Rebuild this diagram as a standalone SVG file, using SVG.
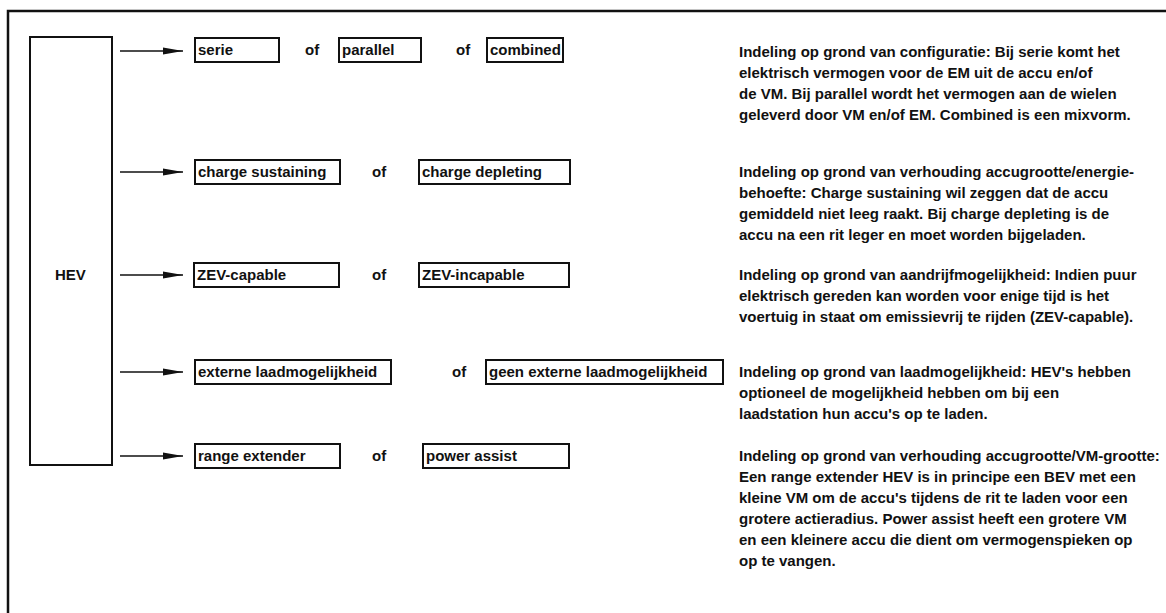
<svg xmlns="http://www.w3.org/2000/svg" width="1166" height="613" viewBox="0 0 1166 613">
<defs>
<style>
text{font-family:"Liberation Sans",Arial,sans-serif;font-size:15px;font-weight:bold;fill:#111}
.frame{stroke:#111;stroke-width:2.5;fill:none}
.box{stroke:#111;stroke-width:2;fill:#fff}
.conn{stroke:#111;stroke-width:1.5;fill:none}
</style>
<marker id="ah" viewBox="0 0 20 8" refX="20" refY="4" markerWidth="20" markerHeight="8" markerUnits="userSpaceOnUse" orient="auto">
<path d="M0,0.5 L20,4 L0,7.5 Z" fill="#111"/>
</marker>
</defs>
<rect width="1166" height="613" fill="#fff"/>
<path class="frame" d="M8,613 V11 H1166"/>
<g id="hev">
<rect class="box" x="30" y="37" width="82" height="428" stroke-width="1.8"/>
<text x="55" y="280">HEV</text>
</g>
<g id="connectors">
<line class="conn" x1="120" y1="51" x2="183" y2="51" marker-end="url(#ah)"/>
<line class="conn" x1="120" y1="172" x2="183" y2="172" marker-end="url(#ah)"/>
<line class="conn" x1="120" y1="275" x2="183" y2="275" marker-end="url(#ah)"/>
<line class="conn" x1="120" y1="372" x2="183" y2="372" marker-end="url(#ah)"/>
<line class="conn" x1="120" y1="456" x2="183" y2="456" marker-end="url(#ah)"/>
</g>
<g id="row1">
<g id="serie"><rect class="box" x="195" y="38" width="84" height="24"/><text x="198" y="55">serie</text></g>
<text x="305" y="55">of</text>
<g id="parallel"><rect class="box" x="339" y="38" width="82" height="24"/><text x="342" y="55">parallel</text></g>
<text x="456" y="55">of</text>
<g id="combined"><rect class="box" x="487" y="38" width="76" height="24"/><text x="490" y="55">combined</text></g>
</g>
<g id="row2">
<g id="charge-sustaining"><rect class="box" x="195" y="160" width="145" height="24"/><text x="198" y="177">charge sustaining</text></g>
<text x="372" y="177">of</text>
<g id="charge-depleting"><rect class="box" x="419" y="160" width="151" height="24"/><text x="422" y="177">charge depleting</text></g>
</g>
<g id="row3">
<g id="zev-capable"><rect class="box" x="194" y="263" width="145" height="24"/><text x="197" y="280">ZEV-capable</text></g>
<text x="372" y="280">of</text>
<g id="zev-incapable"><rect class="box" x="419" y="263" width="150" height="24"/><text x="422" y="280">ZEV-incapable</text></g>
</g>
<g id="row4">
<g id="externe"><rect class="box" x="195" y="360" width="196" height="24"/><text x="198" y="377">externe laadmogelijkheid</text></g>
<text x="452" y="377">of</text>
<g id="geen-externe"><rect class="box" x="486" y="360" width="237" height="24"/><text x="489" y="377">geen externe laadmogelijkheid</text></g>
</g>
<g id="row5">
<g id="range-extender"><rect class="box" x="195" y="444" width="145" height="24"/><text x="198" y="461">range extender</text></g>
<text x="372" y="461">of</text>
<g id="power-assist"><rect class="box" x="423" y="444" width="146" height="24"/><text x="426" y="461">power assist</text></g>
</g>
<g id="descriptions">
<text x="739" y="57">Indeling op grond van configuratie: Bij serie komt het</text>
<text x="739" y="78">elektrisch vermogen voor de EM uit de accu en/of</text>
<text x="739" y="99">de VM. Bij parallel wordt het vermogen aan de wielen</text>
<text x="739" y="120">geleverd door VM en/of EM. Combined is een mixvorm.</text>
<text x="739" y="177">Indeling op grond van verhouding accugrootte/energie-</text>
<text x="739" y="198">behoefte: Charge sustaining wil zeggen dat de accu</text>
<text x="739" y="219">gemiddeld niet leeg raakt. Bij charge depleting is de</text>
<text x="739" y="240">accu na een rit leger en moet worden bijgeladen.</text>
<text x="739" y="280">Indeling op grond van aandrijfmogelijkheid: Indien puur</text>
<text x="739" y="301">elektrisch gereden kan worden voor enige tijd is het</text>
<text x="739" y="322">voertuig in staat om emissievrij te rijden (ZEV-capable).</text>
<text x="739" y="377">Indeling op grond van laadmogelijkheid: HEV's hebben</text>
<text x="739" y="398">optioneel de mogelijkheid hebben om bij een</text>
<text x="739" y="419">laadstation hun accu's op te laden.</text>
<text x="739" y="461">Indeling op grond van verhouding accugrootte/VM-grootte:</text>
<text x="739" y="482">Een range extender HEV is in principe een BEV met een</text>
<text x="739" y="503">kleine VM om de accu's tijdens de rit te laden voor een</text>
<text x="739" y="524">grotere actieradius. Power assist heeft een grotere VM</text>
<text x="739" y="545">en een kleinere accu die dient om vermogenspieken op</text>
<text x="739" y="566">op te vangen.</text>
</g>
</svg>
